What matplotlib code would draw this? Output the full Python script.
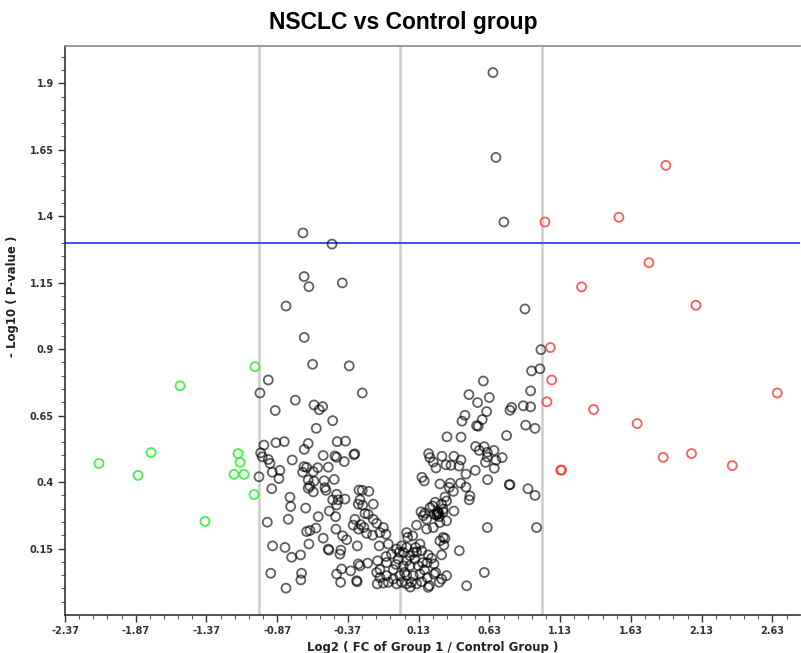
import matplotlib
matplotlib.use("Agg")
import matplotlib.pyplot as plt
from matplotlib.ticker import FixedLocator
import numpy as np

title = "NSCLC vs Control group"
x_label = "Log2 ( FC of Group 1 / Control Group )"
y_label = "- Log10 ( P-value )"

# Features that are not significantly changed
ns_log2fc = [
    0.655, 0.676, 0.732, -0.688, -0.483, -0.680, -0.646, -0.410, -0.808, -0.679,
    -0.620, -0.361, -0.933, -0.992, -0.269, -0.742, -0.610, -0.549, -0.573, -0.884,
    -0.478, -0.594, 0.881,
    0.994, 0.987, 0.928, 0.587, 0.921, 0.485, 0.629, 0.546, 0.869, 0.921,
    0.787, 0.775, 0.610, 0.457, 0.579, 0.436, 0.539, 0.551, 0.886, 0.952,
    0.751, 0.330, 0.429, 0.532, 0.593, 0.558, 0.662, 0.615, 0.200, 0.209,
    0.294, 0.379, 0.615, 0.720, 0.676, 0.429, 0.323, 0.415, 0.602, 0.252,
    0.358, 0.664, 0.464, 0.530, 0.153, 0.169, 0.280, 0.353, 0.426, 0.346,
    0.375, 0.464, 0.617, 0.770, 0.775, 0.902, 0.952, 0.492, 0.487, 0.316,
    0.247, 0.292, 0.229, 0.146, 0.174, 0.303, 0.327, 0.379, 0.264, 0.261,
    0.270, 0.255, 0.963,
    0.233, 0.210, 0.162, 0.115, 0.186, 0.240, 0.268, 0.275, 0.303, 0.327,
    0.280, 0.233, 0.186, 0.303,
    -0.964, -0.879, -0.820, -0.651, -0.679, -0.446, -0.387, -0.987, -0.976, -0.933,
    -0.921, -0.764, -0.545, -0.462, -0.450, -0.328, -0.322, -0.396, -0.681, -0.662,
    -0.584, -0.509, -0.851, -0.905, -0.690, -0.615, -0.999, -0.858, -0.651, -0.610,
    -0.538, -0.467, -0.639, -0.651, -0.533, -0.525, -0.909, -0.615, -0.450, -0.292,
    -0.269, -0.222, -0.780, -0.478, -0.439, -0.391, -0.285, -0.297, -0.266, -0.450,
    -0.191, -0.775, -0.669, -0.502, -0.580, -0.457, -0.250, -0.227, -0.792, -0.940,
    -0.321, -0.191, -0.333, -0.280, -0.257, -0.167, -0.120, -0.596, -0.639, -0.662,
    -0.455, -0.295, -0.238, -0.196, -0.144, -0.101, -0.408, -0.545, -0.379, -0.304,
    -0.149, -0.085, -0.646, -0.903, -0.815, -0.509, -0.505, -0.420, -0.427, -0.768,
    -0.705, -0.297, -0.231, -0.160, -0.101, -0.027, -0.007, 0.045, 0.052, 0.087,
    0.045, 0.021, 0.068, 0.108, 0.139, 0.151, 0.197, 0.221, 0.238, 0.292,
    0.308, 0.316, 0.280, 0.417, 0.190, 0.292, 0.327, 0.275, 0.469, 0.594,
    0.615, -0.916, -0.698, -0.703, -0.808, -0.450, -0.422, -0.309, -0.305, -0.415,
    -0.351, -0.285, -0.167, -0.144, -0.097, -0.163, -0.085, -0.026, 0.009, 0.045,
    0.080, 0.115, 0.151, 0.205, -0.050, -0.003, 0.045, 0.092, 0.139, -0.144,
    -0.050, 0.021, 0.068, 0.127, -0.097, -0.015, 0.045, 0.103, 0.157, -0.062,
    0.092, 0.009, 0.115,
    0.030, 0.170, -0.120, 0.250, 0.190, -0.030, 0.070, 0.238, 0.197,
]
ns_neglog10p = [
    1.940, 1.621, 1.378, 1.337, 1.295, 1.173, 1.135, 1.149, 1.062, 0.944,
    0.843, 0.837, 0.784, 0.735, 0.735, 0.708, 0.690, 0.684, 0.672, 0.669,
    0.631, 0.602, 1.051,
    0.898, 0.826, 0.818, 0.780, 0.743, 0.729, 0.718, 0.699, 0.687, 0.683,
    0.681, 0.670, 0.665, 0.651, 0.635, 0.629, 0.612, 0.610, 0.614, 0.602,
    0.575, 0.570, 0.569, 0.534, 0.533, 0.519, 0.519, 0.512, 0.507, 0.492,
    0.497, 0.497, 0.494, 0.492, 0.482, 0.483, 0.465, 0.460, 0.474, 0.453,
    0.463, 0.452, 0.430, 0.444, 0.418, 0.404, 0.393, 0.396, 0.396, 0.380,
    0.365, 0.381, 0.409, 0.390, 0.390, 0.375, 0.350, 0.348, 0.333, 0.344,
    0.324, 0.317, 0.310, 0.288, 0.283, 0.298, 0.329, 0.291, 0.289, 0.279,
    0.283, 0.275, 0.229,
    0.475, 0.304, 0.273, 0.238, 0.260, 0.279, 0.283, 0.270, 0.288, 0.254,
    0.248, 0.229, 0.223, 0.192,
    0.539, 0.548, 0.552, 0.545, 0.523, 0.552, 0.554, 0.510, 0.495, 0.485,
    0.470, 0.483, 0.500, 0.498, 0.493, 0.503, 0.506, 0.477, 0.458, 0.455,
    0.454, 0.456, 0.444, 0.437, 0.437, 0.439, 0.420, 0.413, 0.408, 0.403,
    0.405, 0.410, 0.385, 0.377, 0.379, 0.369, 0.375, 0.363, 0.354, 0.370,
    0.369, 0.365, 0.343, 0.333, 0.333, 0.336, 0.333, 0.317, 0.313, 0.314,
    0.317, 0.308, 0.302, 0.291, 0.270, 0.270, 0.282, 0.279, 0.260, 0.249,
    0.260, 0.260, 0.238, 0.240, 0.229, 0.245, 0.229, 0.227, 0.218, 0.214,
    0.223, 0.223, 0.207, 0.200, 0.210, 0.204, 0.198, 0.189, 0.183, 0.160,
    0.160, 0.167, 0.167, 0.160, 0.154, 0.148, 0.144, 0.144, 0.129, 0.117,
    0.126, 0.092, 0.095, 0.104, 0.120, 0.148, 0.136, 0.210, 0.192, 0.198,
    0.154, 0.136, 0.123, 0.154, 0.167, 0.142, 0.126, 0.113, 0.092, 0.126,
    0.163, 0.188, 0.179, 0.142, 0.097, 0.035, 0.048, 0.023, 0.010, 0.060,
    0.229, 0.057, 0.057, 0.032, 0.001, 0.054, 0.023, 0.029, 0.025, 0.073,
    0.066, 0.085, 0.060, 0.041, 0.048, 0.017, 0.023, 0.017, 0.023, 0.017,
    0.023, 0.017, 0.025, 0.010, 0.035, 0.048, 0.050, 0.048, 0.054, 0.071,
    0.071, 0.085, 0.085, 0.085, 0.097, 0.110, 0.104, 0.110, 0.097, 0.129,
    0.136, 0.160, 0.136,
    0.060, 0.070, 0.020, 0.060, 0.040, 0.090, 0.005, 0.054, 0.004,
]

# Up-regulated features (log2 FC > 1)
up_log2fc = [1.022, 1.545, 1.877, 1.757, 1.281, 2.089, 1.366, 1.674, 1.858,
             2.058, 2.346, 2.664, 1.133, 1.140, 1.060, 1.070, 1.036]
up_neglog10p = [1.378, 1.396, 1.591, 1.225, 1.134, 1.065, 0.673, 0.620, 0.493,
                0.507, 0.462, 0.735, 0.445, 0.445, 0.906, 0.784, 0.702]

# Down-regulated features (log2 FC < -1)
down_log2fc = [-2.130, -1.854, -1.762, -1.557, -1.381, -1.147, -1.133, -1.176,
               -1.105, -1.027, -1.034]
down_neglog10p = [0.470, 0.425, 0.511, 0.762, 0.252, 0.507, 0.474, 0.429,
                  0.429, 0.834, 0.353]

fc_cutoffs = [-1.0, 0.0, 1.0]
p_cutoff = 1.30

x_ticks = [-2.37, -1.87, -1.37, -0.87, -0.37, 0.13, 0.63, 1.13, 1.63, 2.13, 2.63]
y_ticks = [0.15, 0.4, 0.65, 0.9, 1.15, 1.4, 1.65, 1.9]
y_tick_labels = ["0.15", "0.4", "0.65", "0.9", "1.15", "1.4", "1.65", "1.9"]

fig = plt.figure(figsize=(8.01, 6.53), dpi=100)
ax = fig.add_axes([65 / 801, 1 - 615 / 653, 735 / 801, 569 / 653])

for xc in fc_cutoffs:
    ax.axvline(xc, color="#cccccc", lw=1.8, zorder=1)
ax.axhline(p_cutoff, color="#4a4af0", lw=1.4, zorder=1)

ms = 42
ax.scatter(ns_log2fc, ns_neglog10p, s=ms, facecolors="none",
           edgecolors=(0, 0, 0, 0.62), linewidths=1.3, zorder=3)
ax.scatter(up_log2fc, up_neglog10p, s=ms, facecolors="none",
           edgecolors=(1.0, 0.2, 0.2, 0.8), linewidths=1.3, zorder=3)
ax.scatter(down_log2fc, down_neglog10p, s=ms, facecolors="none",
           edgecolors=(0.2, 0.95, 0.2, 0.9), linewidths=1.3, zorder=3)

ax.set_xlim(-2.37, 2.825)
ax.set_ylim(-0.1, 2.04)

ax.xaxis.set_major_locator(FixedLocator(x_ticks))
ax.set_xticklabels([f"{v:.2f}" for v in x_ticks])
ax.xaxis.set_minor_locator(FixedLocator(np.round(np.arange(-2.37, 2.83, 0.1), 2)))
ax.yaxis.set_major_locator(FixedLocator(y_ticks))
ax.set_yticklabels(y_tick_labels)
ax.yaxis.set_minor_locator(FixedLocator(np.round(np.arange(-0.05, 2.04, 0.05), 3)))

ax.tick_params(which="major", direction="out", length=5, width=1.0,
               color="#333333", labelsize=7, labelcolor="#333333", pad=3)
ax.tick_params(which="minor", direction="out", length=3, width=0.8, color="#555555")
for lab in ax.get_xticklabels() + ax.get_yticklabels():
    lab.set_fontweight("bold")

for side in ("left", "bottom"):
    ax.spines[side].set_color("#333333")
    ax.spines[side].set_linewidth(1.2)
ax.spines["top"].set_color("#888888")
ax.spines["top"].set_linewidth(1.2)
ax.spines["right"].set_visible(False)

ax.set_xlabel(x_label, fontsize=8.5, fontweight="bold", color="#222222")
ax.xaxis.set_label_coords(0.5, -0.046)
ax.xaxis.label.set_verticalalignment("top")
ax.set_ylabel(y_label, fontsize=8.5, fontweight="bold", color="#222222")
ax.yaxis.set_label_coords(-0.062, 0.56)

fig.text(0.503, 1 - 22 / 653, title, ha="center", va="center",
         fontsize=16.5, fontweight="bold", family="Liberation Sans")

fig.savefig("out.png", dpi=100)
